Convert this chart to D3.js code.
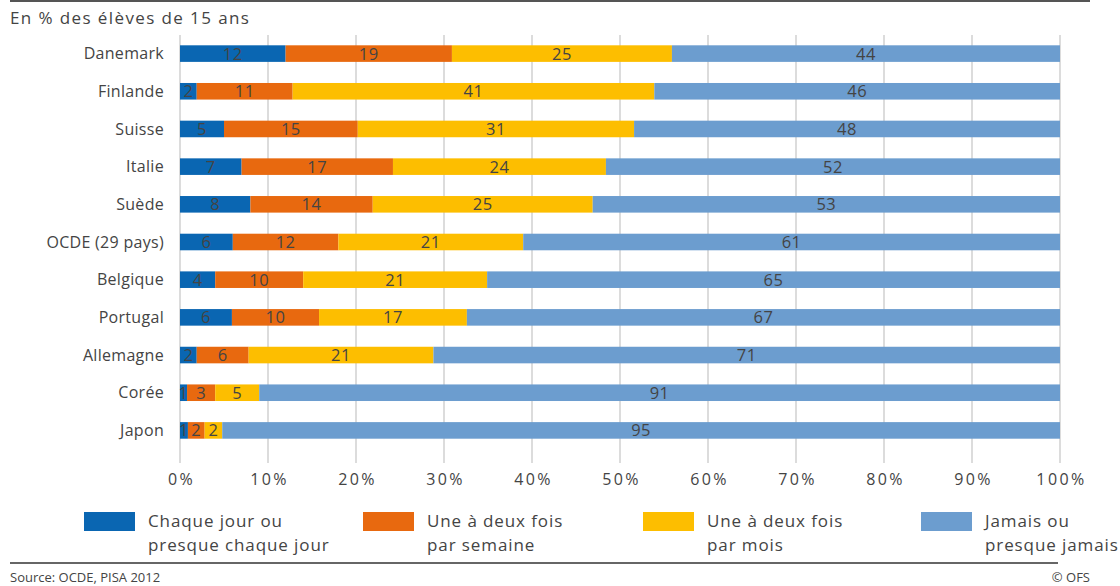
<!DOCTYPE html>
<html><head><meta charset="utf-8">
<script src="https://cdn.jsdelivr.net/npm/d3@7"></script>
<style>body{margin:0;background:#fff}svg{display:block}text{font-family:"Open Sans","Noto Sans",sans-serif;fill:#444}</style>
</head><body><svg id="c" width="1120" height="586"></svg>
<script>
const categories = ["Danemark","Finlande","Suisse","Italie","Suède","OCDE (29 pays)","Belgique","Portugal","Allemagne","Corée","Japon"];
const seriesNames = [["Chaque jour ou","presque chaque jour"],["Une à deux fois","par semaine"],["Une à deux fois","par mois"],["Jamais ou","presque jamais"]];
const daily   = [12.0, 1.9, 5.0, 7.0, 8.0, 6.0, 4.0, 5.9, 1.9, 0.8, 0.9];
const weekly  = [18.9,10.9,15.2,17.2,13.9,12.0,10.0, 9.9, 5.9, 3.2, 1.9];
const monthly = [25.0,41.1,31.4,24.2,25.0,21.0,20.9,16.8,21.0, 5.0, 2.0];
const never   = [44.1,46.1,48.4,51.6,53.1,61.0,65.1,67.4,71.2,91.0,95.2];
const colors = ["#0a66b2","#e8690f","#fdbe00","#6c9dcf"];
const ticks = [0,10,20,30,40,50,60,70,80,90,100];

const svg = d3.select("#c");
const x = d3.scaleLinear().domain([0,100]).range([180,1060]);
const y = d3.scaleBand().domain(categories).range([34,450]).paddingInner(0.56).paddingOuter(0.3);

// frame lines
svg.append("line").attr("x1",10).attr("x2",1090).attr("y1",1).attr("y2",1).attr("stroke","#555").attr("stroke-width",2);
svg.append("line").attr("x1",10).attr("x2",1058).attr("y1",563).attr("y2",563).attr("stroke","#666").attr("stroke-width",2);
svg.append("text").attr("x",10).attr("y",24).attr("font-size",17).attr("letter-spacing",1.4).text("En % des élèves de 15 ans");

// grid
svg.append("g").selectAll("line").data(ticks).join("line")
  .attr("x1",d=>x(d)).attr("x2",d=>x(d)).attr("y1",35).attr("y2",463)
  .attr("stroke","#d0d0d0").attr("stroke-width",1.5);

// axis labels
const ax = svg.append("g").attr("transform","translate(1,466)")
  .call(d3.axisBottom(x).tickValues(ticks).tickFormat(d=>d+"%").tickSize(0).tickPadding(8));
ax.select(".domain").remove();
ax.selectAll("text").attr("font-size",16).attr("letter-spacing",2.4).attr("fill","#444").style("font-family",'"Open Sans","Noto Sans",sans-serif');

// category labels
svg.append("g").selectAll("text").data(categories).join("text")
  .attr("x",164).attr("y",d=>y(d)+y.bandwidth()/2).attr("dy","0.35em")
  .attr("text-anchor","end").attr("font-size",16).attr("letter-spacing",0.3).text(d=>d);

// stacked bars
const rows = categories.map((c,i)=>({cat:c,vals:[daily[i],weekly[i],monthly[i],never[i]]}));
rows.forEach(r=>{
  let acc=0;
  r.vals.forEach((v,k)=>{
    const x0=acc; acc+=v;
    svg.append("rect").attr("x",x(x0)).attr("y",y(r.cat)).attr("width",x(acc)-x(x0)).attr("height",y.bandwidth()).attr("fill",colors[k]);
    svg.append("text").attr("x",(x(x0)+x(acc))/2).attr("y",y(r.cat)+y.bandwidth()/2).attr("dy","0.36em")
      .attr("text-anchor","middle").attr("font-size",16.5).attr("letter-spacing",0.5).attr("fill","#1e1e1e").text(Math.round(v));
  });
});

// legend
const lx=[84,363,643,921];
seriesNames.forEach((n,k)=>{
  svg.append("rect").attr("x",lx[k]).attr("y",512).attr("width",51).attr("height",19).attr("fill",colors[k]);
  n.forEach((t,j)=>svg.append("text").attr("x",lx[k]+64).attr("y",527+j*24).attr("font-size",17).attr("letter-spacing",0.9).text(t));
});

svg.append("text").attr("x",10).attr("y",582).attr("font-size",13).attr("fill","#444").text("Source: OCDE, PISA 2012");
svg.append("text").attr("x",1090).attr("y",582).attr("font-size",13).attr("fill","#444").attr("text-anchor","end").text("© OFS");
</script></body></html>
